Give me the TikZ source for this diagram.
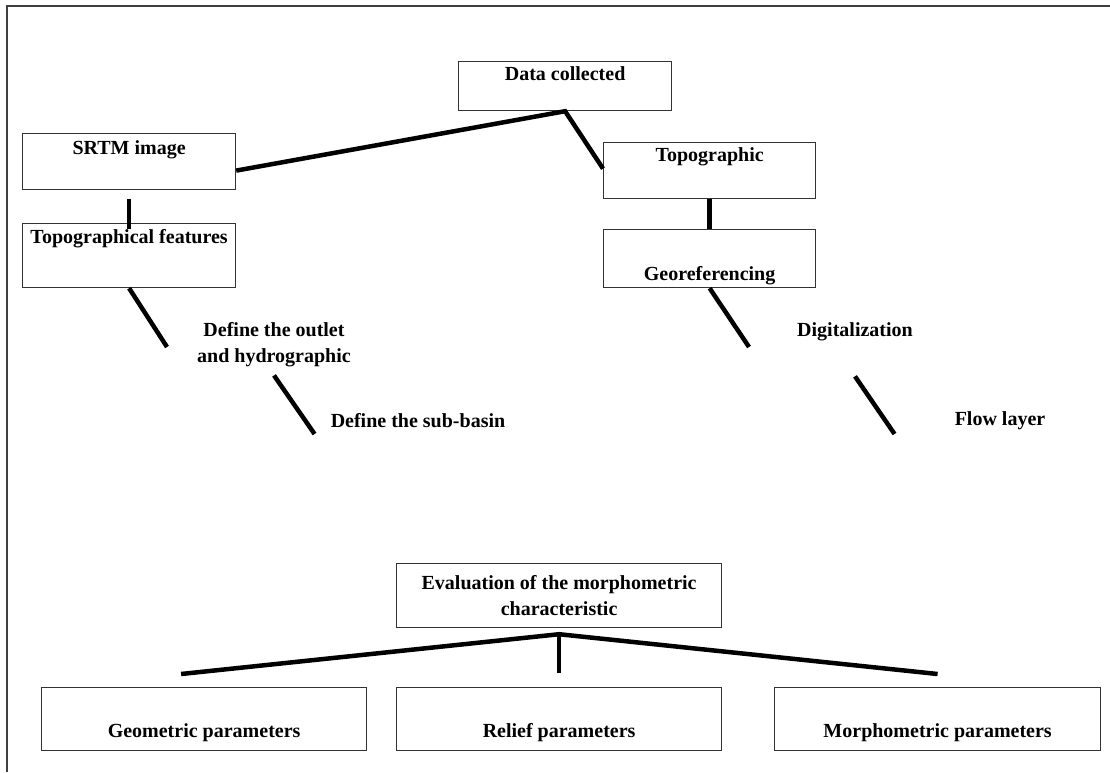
\documentclass[tikz,border=0pt]{standalone}
\usepackage{fontspec}
\setmainfont{Liberation Serif}
\usetikzlibrary{positioning}
\tikzset{
  box/.style={draw=black!80, line width=1.2pt, inner sep=0pt, anchor=north west, font=\bfseries\fontsize{20}{26}\selectfont},
  tag/.style={font=\bfseries\fontsize{20}{26}\selectfont, align=center, inner sep=2pt},
  link/.style={line width=4.5pt}
}
\begin{document}
\begin{tikzpicture}[x=1pt,y=-1pt]
        \useasboundingbox (0,0) rectangle (1110,772);
        \draw[line width=2pt, black!75] (7,772) -- (7,6) -- (1110,6);

        \node[box, minimum width=213, text height=19pt, text depth=30pt] (data) at (458,61) {Data collected};
        \node[box, minimum width=213, text height=21pt, text depth=35pt] (srtm) at (22,133) {SRTM image};
        \node[box, minimum width=213, text height=20pt, text depth=44pt] (feat) at (22,223) {Topographical features};
        \node[box, minimum width=212, text height=19pt, text depth=37pt] (topo) at (603,142) {Topographic};
        \node[box, minimum width=212, text height=51pt, text depth=7pt] (geo) at (603,229) {Georeferencing};

        \node[tag] (outlet) at (274,345) {Define the outlet\\and hydrographic};
        \node[tag] (sub) at (418,421) {Define the sub-basin};
        \node[tag] (dig) at (855,332) {Digitalization};
        \node[tag] (flow) at (1000,421) {Flow layer};

        \node[box, minimum width=325, minimum height=64, align=center] (eval) at (396,563) {Evaluation of the morphometric\\characteristic};
        \node[box, minimum width=325, text height=50pt, text depth=13pt] (geom) at (41,687) {Geometric parameters};
        \node[box, minimum width=325, text height=50pt, text depth=13pt] (relief) at (396,687) {Relief parameters};
        \node[box, minimum width=326, text height=50pt, text depth=13pt] (morph) at (774,687) {Morphometric parameters};

        \draw[link] ([yshift=-9pt]srtm.east) -- (data.south) -- ([yshift=2pt]topo.west);
        \draw[link] ([yshift=-9pt]srtm.south) -- ([yshift=-6pt]feat.north);
        \draw[link] (feat.south) -- ([xshift=-28pt,yshift=-2pt]outlet.west);
        \draw[link] ([yshift=-6pt]outlet.south) -- ([xshift=-14pt,yshift=-13pt]sub.west);
        \draw[link] (topo.south) -- (geo.north);
        \draw[link] (geo.south) -- ([xshift=-46pt,yshift=-15pt]dig.west);
        \draw[link] ([yshift=-33pt]dig.south) -- ([xshift=-58pt,yshift=-13pt]flow.west);

        \draw[link] ([xshift=-23pt,yshift=13pt]geom.north) -- ([yshift=-6pt]eval.south) -- ([yshift=13pt]morph.north);
        \draw[link] ([yshift=-8pt]eval.south) -- ([yshift=14pt]relief.north);
\end{tikzpicture}
\end{document}
